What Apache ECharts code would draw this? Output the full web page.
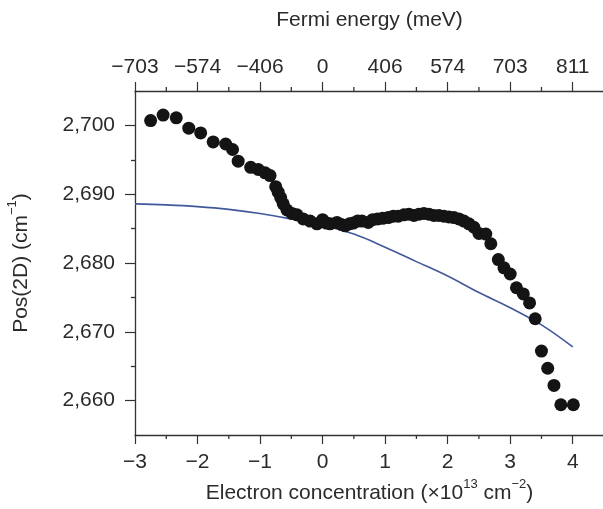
<!DOCTYPE html>
<html>
<head>
<meta charset="utf-8">
<script src="https://cdn.jsdelivr.net/npm/echarts@6/dist/echarts.min.js"></script>
<style>
html, body { margin: 0; padding: 0; background: #ffffff; }
#chart { width: 603px; height: 509px; }
</style>
</head>
<body>
<div id="chart"></div>
<script>
// Measured 2D peak position versus electron concentration
const concentration = [
  -2.75, -2.55, -2.34, -2.14, -1.95, -1.75, -1.55, -1.44, -1.35, -1.15,
  -1.03, -0.92, -0.84, -0.75, -0.71, -0.67, -0.63, -0.57, -0.49, -0.41,
  -0.31, -0.20, -0.09, 0.00, 0.06, 0.12, 0.23, 0.30, 0.36, 0.43,
  0.49, 0.56, 0.63, 0.73, 0.80, 0.88, 0.96, 1.05, 1.13, 1.21,
  1.30, 1.38, 1.46, 1.54, 1.62, 1.70, 1.78, 1.86, 1.94, 2.02,
  2.10, 2.18, 2.26, 2.34, 2.42, 2.50, 2.61, 2.69, 2.81, 2.90,
  3.00, 3.10, 3.21, 3.31, 3.40, 3.50, 3.60, 3.70, 3.81, 4.01
];
const peakPosition = [
  2700.7, 2701.5, 2701.1, 2699.6, 2698.9, 2697.6, 2697.3, 2696.5, 2694.8, 2693.9,
  2693.6, 2693.1, 2692.7, 2691.1, 2690.3, 2689.5, 2688.6, 2687.7, 2687.2, 2687.0,
  2686.4, 2686.1, 2685.7, 2686.3, 2685.8, 2685.7, 2685.9, 2685.6, 2685.4, 2685.7,
  2685.8, 2686.1, 2686.1, 2685.9, 2686.3, 2686.4, 2686.5, 2686.6, 2686.8, 2686.8,
  2687.0, 2687.1, 2686.9, 2687.1, 2687.2, 2687.1, 2686.9, 2686.9, 2686.8, 2686.7,
  2686.6, 2686.4, 2686.1, 2685.7, 2685.2, 2684.3, 2684.2, 2682.8, 2680.5, 2679.3,
  2678.4, 2676.4, 2675.5, 2674.2, 2671.9, 2667.2, 2664.7, 2662.2, 2659.4, 2659.4
];

// Calculated curve
const theoryConcentration = [-3, -2.5, -2, -1.5, -1, -0.5, 0, 0.5, 1, 1.5, 2, 2.5, 3, 3.5, 4];
const theoryPosition = [
  2688.6, 2688.45, 2688.2, 2687.8, 2687.2, 2686.4, 2685.5, 2684.2,
  2682.3, 2680.2, 2678.1, 2675.7, 2673.5, 2671.0, 2667.8
];

// Axis ticks
const concentrationTicks = [-3, -2, -1, 0, 1, 2, 3, 4];
const concentrationMinorTicks = [-2.5, -1.5, -0.5, 0.5, 1.5, 2.5, 3.5];
const fermiLabels = ['−703', '−574', '−406', '0', '406', '574', '703', '811'];
const positionTicks = [2660, 2670, 2680, 2690, 2700];
const positionMinorTicks = [2665, 2675, 2685, 2695];

const Y_MIN = 2655, Y_MAX = 2705;

const FONT = "'Liberation Sans', Arial, sans-serif";
const INK = '#2b2b2b';
const LINE = '#333333';

const labelStyle = { fontFamily: FONT, fontSize: 21, color: INK };
const nameRich = {
  a: { fontFamily: FONT, fontSize: 21, color: INK, lineHeight: 26, verticalAlign: 'bottom' },
  s: { fontFamily: FONT, fontSize: 13, color: INK, lineHeight: 12, verticalAlign: 'top' }
};

const minus = v => (v < 0 ? '−' + Math.abs(v) : String(v));

// short outward tick marks along the top and bottom axis lines
function minorTickSeries(yValue, offsetY) {
  return {
    type: 'scatter', xAxisIndex: 0, yAxisIndex: 0,
    data: concentrationMinorTicks.map(x => [x, yValue]),
    symbol: 'rect', symbolSize: [1.3, 4], symbolOffset: [0, offsetY],
    clip: false, silent: true, z: 5,
    itemStyle: { color: LINE, opacity: 1 }
  };
}

const chart = echarts.init(document.getElementById('chart'));
chart.setOption({
  animation: false,
  backgroundColor: '#ffffff',
  grid: { left: 135, top: 91, width: 469, bottom: 74, containLabel: false, outerBoundsMode: 'none' },
  xAxis: [
    {
      type: 'value', position: 'bottom', min: -3, max: 4.5,
      name: '{a|Electron concentration (×10}{s|13}{a| cm}{s|−2}{a|)}',
      nameLocation: 'middle', nameGap: 40,
      nameTextStyle: { rich: nameRich },
      axisLine: { show: true, onZero: false, lineStyle: { color: LINE, width: 1.3 } },
      axisTick: { show: true, length: 9, customValues: concentrationTicks, lineStyle: { color: LINE, width: 1.2 } },
      axisLabel: Object.assign({ margin: 17, customValues: concentrationTicks, formatter: minus }, labelStyle),
      splitLine: { show: false }
    },
    {
      type: 'value', position: 'top', min: -3, max: 4.5,
      name: 'Fermi energy (meV)',
      nameLocation: 'middle', nameGap: 60,
      nameTextStyle: labelStyle,
      axisLine: { show: true, onZero: false, lineStyle: { color: LINE, width: 1.3 } },
      axisTick: { show: true, length: 9, customValues: concentrationTicks, lineStyle: { color: LINE, width: 1.2 } },
      axisLabel: Object.assign({
        margin: 13, customValues: concentrationTicks,
        formatter: v => fermiLabels[concentrationTicks.indexOf(Math.round(v))]
      }, labelStyle),
      splitLine: { show: false }
    }
  ],
  yAxis: [
    {
      type: 'value', position: 'left', min: Y_MIN, max: Y_MAX,
      name: '{a|Pos(2D) (cm}{s|−1}{a|)}',
      nameLocation: 'middle', nameGap: 103,
      nameTextStyle: { rich: nameRich },
      axisLine: { show: true, onZero: false, lineStyle: { color: LINE, width: 1.3 } },
      axisTick: { show: true, length: 10, customValues: positionTicks, lineStyle: { color: LINE, width: 1.2 } },
      axisLabel: Object.assign({
        margin: 20, customValues: positionTicks,
        formatter: v => v.toLocaleString('en-US')
      }, labelStyle),
      splitLine: { show: false }
    },
    {
      // short intermediate ticks at the half-decades
      type: 'value', position: 'left', min: Y_MIN, max: Y_MAX,
      axisLine: { show: false, onZero: false }, splitLine: { show: false },
      axisLabel: { show: false },
      axisTick: { show: true, length: 4, customValues: positionMinorTicks, lineStyle: { color: LINE, width: 1.3 } }
    }
  ],
  series: [
    {
      type: 'line', xAxisIndex: 0, yAxisIndex: 0,
      data: theoryConcentration.map((x, i) => [x, theoryPosition[i]]),
      smooth: 0.4, showSymbol: false, silent: true,
      lineStyle: { color: '#41599a', width: 1.6 }, z: 3
    },
    {
      type: 'scatter', xAxisIndex: 0, yAxisIndex: 0,
      data: concentration.map((x, i) => [x, peakPosition[i]]),
      symbol: 'circle', symbolSize: 13,
      itemStyle: { color: '#141414', opacity: 1 }, z: 4
    },
    minorTickSeries(Y_MIN, 2),
    minorTickSeries(Y_MAX, -2)
  ]
});
</script>
</body>
</html>
